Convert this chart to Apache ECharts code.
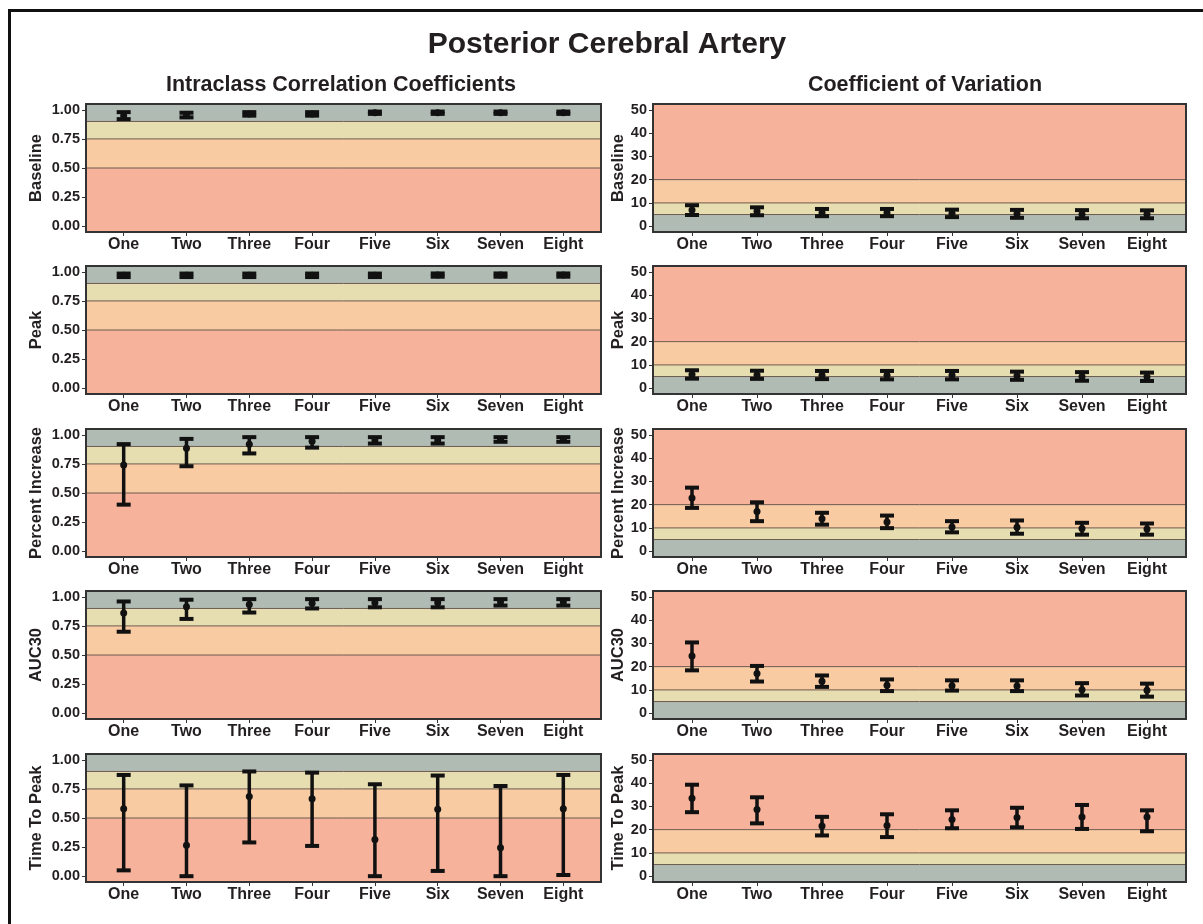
<!DOCTYPE html>
<html>
<head>
<meta charset="utf-8">
<script src="https://cdn.jsdelivr.net/npm/echarts@6/dist/echarts.min.js"></script>
<style>
  html, body { margin: 0; padding: 0; background: #ffffff; }
  #chart { width: 1203px; height: 924px; }
</style>
</head>
<body>
<div id="chart"></div>
<script>
// Categories along each x axis and the measures shown in each row
const categories = ['One', 'Two', 'Three', 'Four', 'Five', 'Six', 'Seven', 'Eight'];
const rowNames = ['Baseline', 'Peak', 'Percent Increase', 'AUC30', 'Time To Peak'];

// Tick labels and the thresholds that separate the shaded bands
const iccTicks = [0, 0.25, 0.5, 0.75, 1];
const cvTicks = [0, 10, 20, 30, 40, 50];
const iccCuts = [0.5, 0.75, 0.9];
const cvCuts = [5, 10, 20];

// Intraclass correlation coefficients: [estimate, lower, upper] per category
const iccBaseline = [[0.95, 0.92, 0.98], [0.955, 0.935, 0.975], [0.965, 0.95, 0.98], [0.965, 0.95, 0.98],
                     [0.975, 0.965, 0.985], [0.975, 0.965, 0.985], [0.975, 0.965, 0.985], [0.975, 0.965, 0.985]];
const iccPeak = [[0.97, 0.955, 0.985], [0.97, 0.955, 0.985], [0.97, 0.955, 0.985], [0.97, 0.955, 0.985],
                 [0.97, 0.955, 0.985], [0.972, 0.958, 0.986], [0.972, 0.958, 0.986], [0.972, 0.958, 0.986]];
const iccPercentIncrease = [[0.74, 0.40, 0.92], [0.885, 0.73, 0.965], [0.92, 0.84, 0.98], [0.945, 0.89, 0.98],
                            [0.955, 0.925, 0.98], [0.955, 0.925, 0.98], [0.96, 0.94, 0.98], [0.96, 0.94, 0.98]];
const iccAuc30 = [[0.86, 0.70, 0.96], [0.915, 0.81, 0.975], [0.935, 0.865, 0.98], [0.945, 0.90, 0.98],
                  [0.95, 0.91, 0.98], [0.95, 0.91, 0.98], [0.955, 0.925, 0.98], [0.955, 0.925, 0.98]];
const iccTimeToPeak = [[0.58, 0.05, 0.87], [0.265, 0.0, 0.78], [0.685, 0.29, 0.90], [0.665, 0.26, 0.89],
                       [0.315, 0.0, 0.79], [0.575, 0.045, 0.865], [0.245, 0.0, 0.775], [0.58, 0.01, 0.87]];

// Coefficients of variation (%): [estimate, lower, upper] per category
const cvBaseline = [[7.0, 4.8, 9.0], [6.4, 4.7, 8.1], [5.8, 4.3, 7.4], [5.8, 4.3, 7.4],
                    [5.4, 3.9, 7.1], [5.3, 3.6, 7.0], [5.1, 3.4, 6.9], [5.1, 3.4, 6.8]];
const cvPeak = [[5.9, 4.1, 7.7], [5.7, 4.0, 7.5], [5.6, 3.9, 7.4], [5.6, 3.8, 7.4],
                [5.6, 3.8, 7.4], [5.3, 3.6, 7.1], [5.0, 3.2, 6.9], [4.9, 3.1, 6.7]];
const cvPercentIncrease = [[22.8, 18.6, 27.3], [17.0, 12.9, 21.0], [13.9, 11.4, 16.5], [12.5, 9.9, 15.3],
                           [10.4, 8.1, 12.9], [10.3, 7.5, 13.2], [9.7, 7.1, 12.2], [9.5, 7.1, 11.9]];
const cvAuc30 = [[24.6, 18.4, 30.4], [17.0, 13.6, 20.3], [13.7, 11.3, 16.2], [12.0, 9.5, 14.5],
                 [11.8, 9.7, 14.1], [11.7, 9.5, 14.1], [10.1, 7.6, 12.9], [9.9, 7.1, 12.7]];
const cvTimeToPeak = [[33.5, 27.5, 39.3], [28.6, 22.7, 33.9], [21.6, 17.5, 25.5], [21.8, 16.8, 26.6],
                      [24.4, 20.6, 28.3], [25.2, 21.0, 29.4], [25.4, 20.3, 30.6], [25.4, 19.3, 28.3]];

const iccPanels = [iccBaseline, iccPeak, iccPercentIncrease, iccAuc30, iccTimeToPeak];
const cvPanels = [cvBaseline, cvPeak, cvPercentIncrease, cvAuc30, cvTimeToPeak];

const FONT = '"Liberation Sans", Arial, sans-serif';
const TEXT = '#231f20';
const SALMON = '#f6b29a', PEACH = '#f8cba3', KHAKI = '#e6ddb0', GREY = '#b0bbb4';
const X_MIN = 0.4, X_MAX = 8.6;
const catPositions = categories.map((c, i) => i + 1);

const columns = [
  { left: 86, width: 515, min: -0.05, max: 1.05, ticks: iccTicks, cuts: iccCuts,
    colors: [SALMON, PEACH, KHAKI, GREY], nameGap: 41, panels: iccPanels,
    fmt: v => v.toFixed(2) },
  { left: 653, width: 533, min: -2.5, max: 52.5, ticks: cvTicks, cuts: cvCuts,
    colors: [GREY, KHAKI, PEACH, SALMON], nameGap: 23, panels: cvPanels,
    fmt: v => String(v) }
];
const rowTops = [104, 266, 429, 591, 754];
const rowHeight = 128;

const grids = [], xAxes = [], yAxes = [], series = [];

columns.forEach((col, ci) => {
  rowNames.forEach((name, ri) => {
    const idx = grids.length;
    grids.push({ left: col.left, top: rowTops[ri], width: col.width, height: rowHeight, show: false });

    xAxes.push({
      type: 'value', gridIndex: idx, min: X_MIN, max: X_MAX,
      axisLine: { show: false, onZero: false },
      splitLine: { show: false },
      axisTick: { show: true, customValues: catPositions, length: 4, lineStyle: { color: '#333', width: 1 } },
      axisLabel: {
        customValues: catPositions, margin: 5,
        formatter: v => categories[Math.round(v) - 1],
        fontFamily: FONT, fontWeight: 'bold', fontSize: 16, color: TEXT
      }
    });

    yAxes.push({
      type: 'value', gridIndex: idx, min: col.min, max: col.max,
      name: name, nameLocation: 'middle', nameGap: col.nameGap, nameRotate: 90,
      nameTextStyle: { fontFamily: FONT, fontWeight: 'bold', fontSize: 16.5, color: TEXT },
      axisLine: { show: false, onZero: false },
      splitLine: { show: false },
      axisTick: { show: true, customValues: col.ticks, length: 4, lineStyle: { color: '#333', width: 1 } },
      axisLabel: {
        customValues: col.ticks, margin: 6, formatter: col.fmt,
        fontFamily: FONT, fontWeight: 'bold', fontSize: 14.5, color: TEXT
      }
    });

    // Shaded agreement bands, from the bottom of the axis to the top
    const edges = [col.min].concat(col.cuts, [col.max]);
    const bands = [];
    for (let b = 0; b < edges.length - 1; b++) bands.push([edges[b], edges[b + 1], b]);
    series.push({
      type: 'custom', xAxisIndex: idx, yAxisIndex: idx, z: 1, silent: true,
      data: bands,
      renderItem: (params, api) => {
        const p0 = api.coord([X_MIN, api.value(0)]);
        const p1 = api.coord([X_MAX, api.value(1)]);
        return {
          type: 'rect',
          shape: { x: p0[0], y: p1[1], width: p1[0] - p0[0], height: p0[1] - p1[1] },
          style: { fill: col.colors[api.value(2)] }
        };
      }
    });

    // Thin rules at each threshold
    series.push({
      type: 'custom', xAxisIndex: idx, yAxisIndex: idx, z: 2, silent: true,
      data: col.cuts.map(c => [c]),
      renderItem: (params, api) => {
        const p0 = api.coord([X_MIN, api.value(0)]);
        const p1 = api.coord([X_MAX, api.value(0)]);
        return {
          type: 'line',
          shape: { x1: p0[0], y1: p0[1], x2: p1[0], y2: p1[1] },
          style: { stroke: '#6e5a50', lineWidth: 1 }
        };
      }
    });

    // Estimates with their confidence intervals
    series.push({
      type: 'custom', xAxisIndex: idx, yAxisIndex: idx, z: 5, silent: true,
      data: col.panels[ri].map((d, i) => [i + 1, d[0], d[1], d[2]]),
      renderItem: (params, api) => {
        const x = api.value(0);
        const pm = api.coord([x, api.value(1)]);
        const pl = api.coord([x, api.value(2)]);
        const ph = api.coord([x, api.value(3)]);
        const cap = 7;
        const st = { stroke: '#111', lineWidth: 3.5 };
        return {
          type: 'group',
          children: [
            { type: 'line', shape: { x1: pl[0], y1: pl[1], x2: ph[0], y2: ph[1] }, style: st },
            { type: 'line', shape: { x1: ph[0] - cap, y1: ph[1], x2: ph[0] + cap, y2: ph[1] }, style: { stroke: '#111', lineWidth: 4 } },
            { type: 'line', shape: { x1: pl[0] - cap, y1: pl[1], x2: pl[0] + cap, y2: pl[1] }, style: { stroke: '#111', lineWidth: 4 } },
            { type: 'circle', shape: { cx: pm[0], cy: pm[1], r: 3.5 }, style: { fill: '#111' } }
          ]
        };
      }
    });

    // Panel frame drawn over the bands
    series.push({
      type: 'custom', xAxisIndex: idx, yAxisIndex: idx, z: 6, silent: true,
      data: [[0]],
      renderItem: (params, api) => {
        const p0 = api.coord([X_MIN, col.min]);
        const p1 = api.coord([X_MAX, col.max]);
        return {
          type: 'rect',
          shape: { x: p0[0], y: p1[1], width: p1[0] - p0[0], height: p0[1] - p1[1] },
          style: { fill: 'none', stroke: '#333', lineWidth: 2 }
        };
      }
    });
  });
});

const chart = echarts.init(document.getElementById('chart'), null, { renderer: 'canvas' });
chart.setOption({
  animation: false,
  backgroundColor: '#ffffff',
  grid: grids,
  xAxis: xAxes,
  yAxis: yAxes,
  series: series,
  graphic: [
    { type: 'rect', left: 7, top: 8, shape: { width: 1400, height: 1100 },
      style: { fill: 'none', stroke: '#111', lineWidth: 3 }, z: 10 },
    { type: 'text', x: 607, y: 45,
      style: { text: 'Posterior Cerebral Artery', font: 'bold 30px ' + FONT, fill: TEXT, textAlign: 'center', textVerticalAlign: 'middle' } },
    { type: 'text', x: 341, y: 85,
      style: { text: 'Intraclass Correlation Coefficients', font: 'bold 21.5px ' + FONT, fill: TEXT, textAlign: 'center', textVerticalAlign: 'middle' } },
    { type: 'text', x: 925, y: 85,
      style: { text: 'Coefficient of Variation', font: 'bold 21.5px ' + FONT, fill: TEXT, textAlign: 'center', textVerticalAlign: 'middle' } }
  ]
});
</script>
</body>
</html>
